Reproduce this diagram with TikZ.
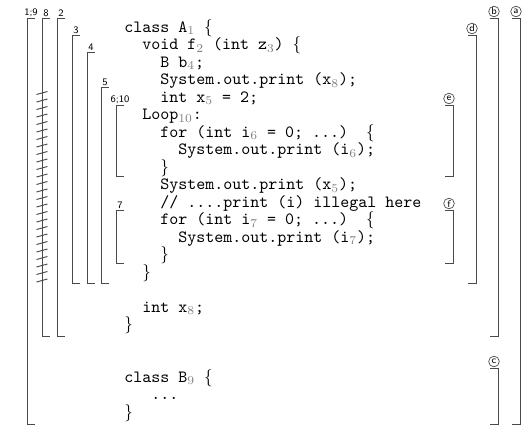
\documentclass[tikz,border=0pt]{standalone}
\usepackage{xcolor}
\usepackage{tikz}
\usetikzlibrary{positioning}
\definecolor{scopeline}{HTML}{4A4A4A}
\definecolor{subgray}{HTML}{808080}
\newcommand{\sub}[1]{$_{\textcolor{subgray}{#1}}$}
\newcommand{\lb}{$\{$}
\newcommand{\rb}{$\}$}

\begin{document}
\begin{tikzpicture}[
  x=0.5833pt, y=-0.5833pt,
  code/.style={
    anchor=base west,
    inner sep=0pt,
    font=\ttfamily
  },
  scope/.style={
    draw=scopeline,
    line width=0.55pt
  },
  numlbl/.style={
    anchor=south,
    inner sep=0.4pt,
    font=\sffamily\fontsize{5.8}{6}\selectfont
  },
  ring/.style={
    circle,
    draw=scopeline,
    line width=0.4pt,
    inner sep=0pt,
    minimum size=6.2pt,
    font=\sffamily\fontsize{5.8}{6}\selectfont
  }
]
  \useasboundingbox (0,0) rectangle (527,428);

  % Code lines
  \node[code] (c1)  at (124,32)    {class A\sub{1} \lb};
  \node[code] (c2)  at (142,49.5)  {void f\sub{2} (int z\sub{3}) \lb};
  \node[code] (c3)  at (160,67)    {B b\sub{4};};
  \node[code] (c4)  at (160,84.5)  {System.out.print (x\sub{8});};
  \node[code] (c5)  at (160,102)   {int x\sub{5} = 2;};
  \node[code] (c6)  at (142,119.5) {Loop\sub{10}:};
  \node[code] (c7)  at (160,137)   {for (int i\sub{6} = 0; ...)\ \ \lb};
  \node[code] (c8)  at (178,154.5) {System.out.print (i\sub{6});};
  \node[code] (c9)  at (160,172)   {\rb};
  \node[code] (c10) at (160,189.5) {System.out.print (x\sub{5});};
  \node[code] (c11) at (160,207)   {// ....print (i) illegal here};
  \node[code] (c12) at (160,224.5) {for (int i\sub{7} = 0; ...)\ \ \lb};
  \node[code] (c13) at (178,242)   {System.out.print (i\sub{7});};
  \node[code] (c14) at (160,259.5) {\rb};
  \node[code] (c15) at (142,277)   {\rb};
  \node[code] (c17) at (142,312)   {int x\sub{8};};
  \node[code] (c18) at (124,329.5) {\rb};
  \node[code] (c21) at (124,382)   {class B\sub{9} \lb};
  \node[code] (c22) at (151,399.5) {...};
  \node[code] (c23) at (124,417)   {\rb};

  % Left scope brackets
  \draw[scope] (35,18) -- (27,18) -- (27,424) -- (35,424);
  \node[numlbl] (n19) at (31,17.5) {1;9};
  \draw[scope] (50,18) -- (42,18) -- (42,336) -- (50,336);
  \node[numlbl] (n8) at (46,17.5) {8};
  \draw[scope] (65,18) -- (57,18) -- (57,336) -- (65,336);
  \node[numlbl] (n2) at (61,17.5) {2};
  \draw[scope] (80,35) -- (72,35) -- (72,283) -- (80,283);
  \node[numlbl] (n3) at (76,34.5) {3};
  \draw[scope] (95,52.5) -- (87,52.5) -- (87,283) -- (95,283);
  \node[numlbl] (n4) at (91,52) {4};
  \draw[scope] (109,87.5) -- (101,87.5) -- (101,283) -- (109,283);
  \node[numlbl] (n5) at (105,87) {5};
  \draw[scope] (124,105) -- (116,105) -- (116,176) -- (124,176);
  \node[numlbl] (n610) at (120,104.5) {6;10};
  \draw[scope] (124,210) -- (116,210) -- (116,263) -- (124,263);
  \node[numlbl] (n7) at (120,209.5) {7};

  % Hatching on bracket 8
  \foreach \hy in {93,100.5,...,284}
    \draw[scope] (36.5,{\hy+1.5}) -- (47.5,{\hy-1.5});

  % Right scope brackets
  \draw[scope] (512,18) -- (520,18) -- (520,424) -- (512,424);
  \node[ring] (ra) at (516,11.5) {a};
  \draw[scope] (490,18) -- (498,18) -- (498,336) -- (490,336);
  \node[ring] (rb) at (494,11.5) {b};
  \draw[scope] (468,35) -- (476,35) -- (476,283) -- (468,283);
  \node[ring] (rd) at (472,28.5) {d};
  \draw[scope] (445,105) -- (453,105) -- (453,176) -- (445,176);
  \node[ring] (re) at (449,98.5) {e};
  \draw[scope] (445,210) -- (453,210) -- (453,263) -- (445,263);
  \node[ring] (rf) at (449,203.5) {f};
  \draw[scope] (490,368) -- (498,368) -- (498,424) -- (490,424);
  \node[ring] (rc) at (494,361.5) {c};
\end{tikzpicture}
\end{document}
